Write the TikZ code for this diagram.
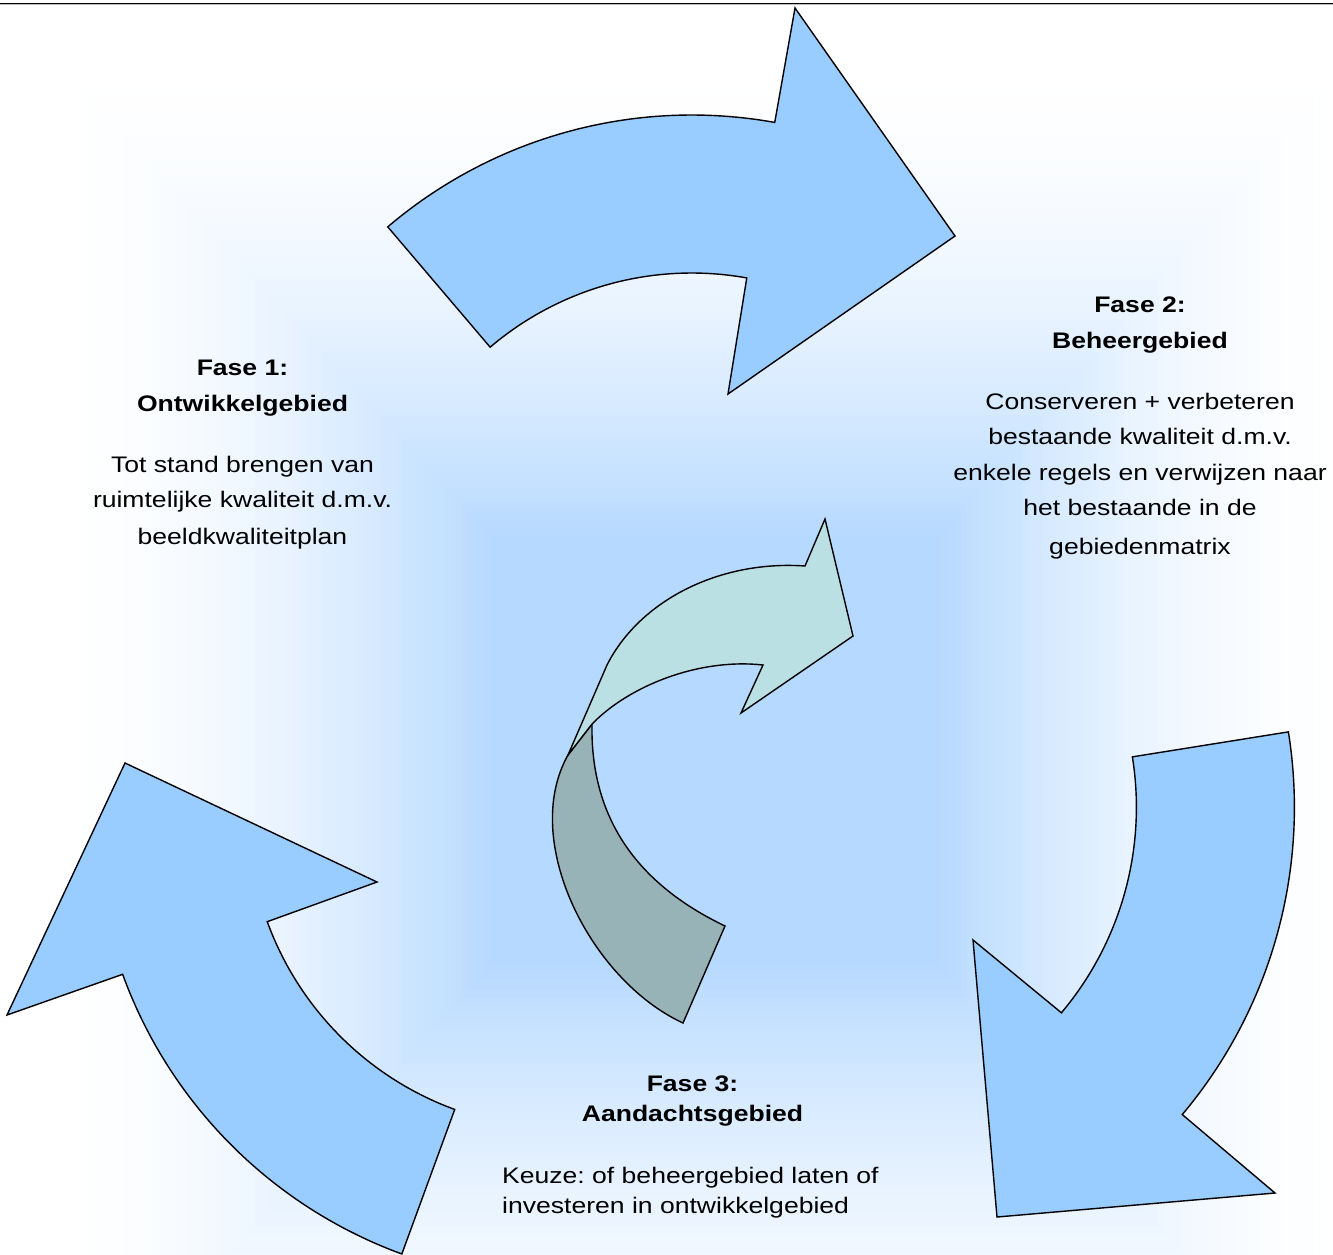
\documentclass[tikz,border=0pt]{standalone}
\usepackage{fontspec}
\setmainfont{Liberation Sans}[FakeStretch=1.18]
\usepackage{tikz}
\usetikzlibrary{calc}
\definecolor{G}{RGB}{182,217,255}
\definecolor{P}{RGB}{153,204,255}
\definecolor{V}{RGB}{187,224,227}
\definecolor{A}{RGB}{151,179,183}
\newcommand{\drawarrow}[1]{\draw[line width=1.4pt, fill=#1]}
\newcommand{\drawgradient}[1]{
    \foreach \i in {0,...,#1}{
    \pgfmathsetmacro{\gt}{\i/#1}
    \pgfmathsetmacro{\gp}{100*\gt^1.8}
    \fill[G!\gp!white] (700+15*\gt-650+425*\gt,-755+5*\gt+700-485*\gt) rectangle (700+15*\gt+650-425*\gt,-755+5*\gt-700+485*\gt);
    }
}
\tikzset{
  fasetext/.style={font=\fontsize{22.5}{35.5}\selectfont, align=center, inner sep=0pt},
  keuzetext/.style={font=\fontsize{22.5}{29.5}\selectfont, align=left, inner sep=0pt}
}

\begin{document}
\frenchspacing
\begin{tikzpicture}[x=1pt,y=1pt]
\useasboundingbox (0,0) rectangle (1333,-1254);
\begin{scope}
\clip (0,0) rectangle (1333,-1254);
\fill[white] (0,0) rectangle (1333,-1254);
\drawgradient{60}
\end{scope}
\draw[line width=1.4pt] (0,-3.3)--(1333,-3.3);
\draw[gray!50, line width=1pt] (0,-4.6)--(1333,-4.6);
\coordinate (c1) at (691.7,-584);
\coordinate (c2) at (562.8,-814.1);
\coordinate (c3) at (817.4,-807.3);
\drawarrow{P} ($(c1)+(130.4:469)$) arc[start angle=130.4, end angle=79.8, radius=469pt]--(795,-8)--(955,-236)--(728,-394)--($(c1)+(79.8:311)$) arc[start angle=79.8, end angle=130.4, radius=311pt]--cycle;
\drawarrow{P} ($(c2)+(-110.1:468.4)$) arc[start angle=-110.1, end angle=-160, radius=468.4pt]--(7,-1015)--(125,-763)--(377,-882)--($(c2)+(-160:314.5)$) arc[start angle=-160, end angle=-110.1, radius=314.5pt]--cycle;
\drawarrow{P} ($(c3)+(9.1:477)$) arc[start angle=9.1, end angle=-40.1, radius=477pt]--(1275,-1193)--(997,-1217)--(973,-940)--($(c3)+(-40.1:319)$) arc[start angle=-40.1, end angle=9.1, radius=319pt]--cycle;
\drawarrow{A} (592,-724) .. controls (590,-830) and (650,-890) .. (725,-926)--(683,-1023) .. controls (590,-980) and (520,-840) .. (568,-755)--cycle;
\drawarrow{V} (568,-755)--(607,-665) .. controls (640,-600) and (720,-560) .. (805,-566)--(825,-519)--(853,-636)--(741,-713)--(763,-665) .. controls (700,-658) and (630,-685) .. (592,-724)--cycle;
\node[fasetext, anchor=north] (fase1) at (242.5,-360) {\textbf{Fase 1:}\\\textbf{Ontwikkelgebied}\\[25.5pt]Tot stand brengen van\\ruimtelijke kwaliteit d.m.v.\\[1.5pt]beeldkwaliteitplan};
\node[fasetext, anchor=north] (fase2) at (1140,-297) {\textbf{Fase 2:}\\\textbf{Beheergebied}\\[25.5pt]Conserveren + verbeteren\\bestaande kwaliteit d.m.v.\\enkele regels en verwijzen naar\\het bestaande in de\\[3pt]gebiedenmatrix};
\node[keuzetext, anchor=north, align=center] (fase3) at (692.5,-1076) {\textbf{Fase 3:}\\\textbf{Aandachtsgebied}};
\node[keuzetext, anchor=north west] (keuze) at (502,-1167) {Keuze: of beheergebied laten of\\investeren in ontwikkelgebied};
\end{tikzpicture}
\end{document}
